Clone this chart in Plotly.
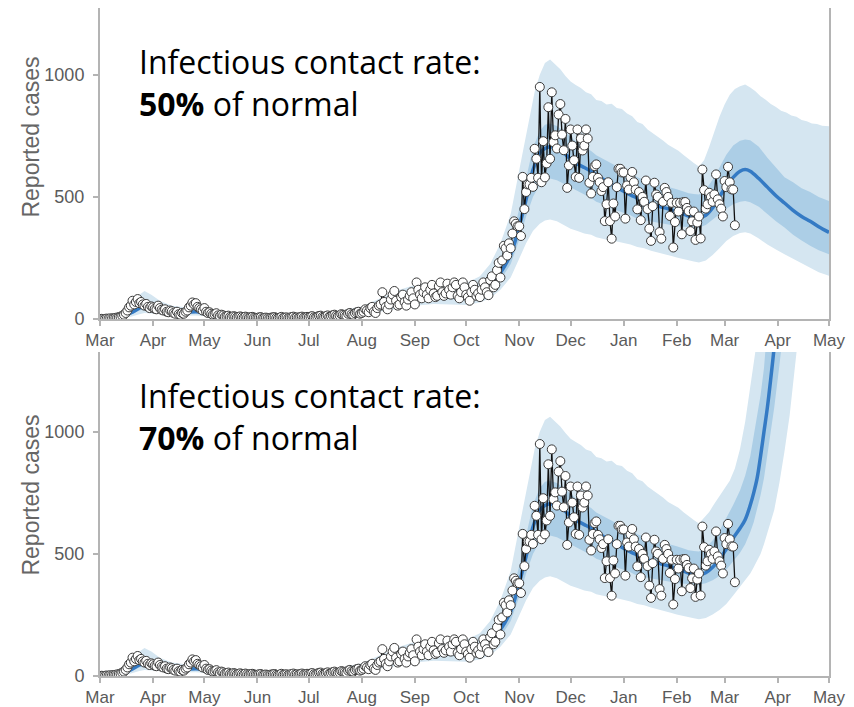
import pandas as pd
import plotly.graph_objects as go

# ---------------- observed daily reported cases (from 2020-03-01) ----------------
cases_2020_03 = [0,1,0,1,2,1,3,2,4,5,6,8,10,14,18,25,35,48,55,75,60,70,82,65,70,60,55,62,50,45,52]
cases_2020_04 = [48,42,40,55,45,38,35,40,30,28,35,32,25,22,30,20,18,25,22,30,35,48,55,68,60,65,50,45,40,35]
cases_2020_05 = [45,30,25,28,22,18,20,24,15,12,18,15,10,12,14,9,8,12,10,7,9,11,8,6,10,7,5,8,9,6,5]
cases_2020_06 = [5,7,8,4,5,6,4,3,6,7,8,5,4,6,9,5,6,7,4,6,8,10,6,7,5,8,10,6,7,9]
cases_2020_07 = [8,10,12,7,6,10,13,14,9,8,12,15,10,12,16,18,14,12,15,20,18,16,14,22,25,20,18,24,28,30,22]
cases_2020_08 = [25,30,40,35,28,45,50,30,25,45,55,60,110,70,50,40,60,80,100,115,75,55,60,90,100,70,55,80,95,110,85]
cases_2020_09 = [60,150,120,100,85,110,130,100,85,120,140,105,90,95,135,150,110,95,105,145,120,100,130,150,140,95,85,110,150,130]
cases_2020_10 = [100,90,75,110,140,120,95,105,90,120,150,130,110,98,160,175,130,140,200,230,170,240,300,290,260,310,290,350,400,390,380]
cases_2020_11 = [380,340,582,450,520,551,551,578,541,697,656,578,950,560,728,580,637,867,656,928,724,752,698,837,880,755,691,819,537,629]
cases_2020_12 = [776,710,650,582,776,578,739,690,710,776,739,558,514,582,626,633,578,560,524,540,401,470,560,401,329,473,420,540,615,615,600]
cases_2021_01 = [600,411,547,530,580,602,560,530,449,520,405,500,480,567,450,370,320,462,558,510,500,356,329,480,537,520,500,422,476,293,397]
cases_2021_02 = [476,440,476,347,479,479,455,442,360,400,440,324,395,420,330,612,528,452,470,517,500,480,510,592,490,470,452,420]
cases_2021_03 = [565,540,623,560,531,530,384]

# ---------------- model fit up to mid-Feb 2021 (days since 2020-03-01), shared by both panels ----------------
fit_day  = [0,10,18,23,26,30,35,42,50,56,63,75,92,110,122,140,153,165,175,184,195,205,214,222,228,234,240,245,249,253,
            257,260,263,267,271,275,279,283,287,290,294,298,302,306,310,314,318,322,326,330,334,337,341,344,347,350]
fit_lo90 = [0,2,10,20,25,25,22,18,14,15,12,6,3,3,4,9,16,32,45,55,62,60,58,68,85,120,170,245,310,360,
            390,403,408,400,385,370,360,350,345,335,330,322,318,313,305,295,290,280,272,265,258,252,246,240,236,232]
fit_lo50 = [1,5,18,35,40,40,35,27,22,24,20,11,6,6,8,14,24,45,62,75,84,82,80,92,118,160,225,325,420,500,
            550,568,575,568,555,540,525,510,495,480,470,455,445,436,425,410,405,400,395,390,385,381,378,376,375,375]
fit_med  = [2,8,25,45,52,50,42,33,28,30,25,15,8,8,10,18,30,55,75,90,100,98,95,110,140,190,265,380,490,610,
            680,698,705,698,680,655,635,620,605,590,572,555,540,523,508,495,482,470,462,455,447,440,430,422,417,415]
fit_hi50 = [3,12,35,65,75,65,52,40,35,38,30,19,11,11,13,23,38,68,90,105,118,115,112,130,168,225,315,450,580,700,
            770,795,800,790,770,745,722,705,688,670,655,640,625,612,598,580,570,560,552,545,538,531,522,515,512,510]
fit_hi90_day = [0,10,18,23,26,30,35,42,50,56,63,75,92,110,122,140,153,165,175,184,195,205,214,222,228,234,240,245,
                248,251,254,257,260,263,266,269,272,275,278,281,284,287,290,293,296,299,302,305,308,311,314,317,320,
                323,326,329,332,335,338,341,344,347,350]
fit_hi90 = [5,20,60,100,115,100,75,55,48,50,42,28,16,16,20,33,52,90,120,140,150,150,148,175,225,310,430,610,
            720,830,930,1000,1048,1062,1040,1022,995,972,958,946,928,920,897,892,878,881,864,860,841,830,806,798,776,
            762,746,731,713,702,689,671,653,639,624]

# ---------------- projection, 50% of normal contact rate ----------------
a_day      = [354,358,362,366,370,374,377,380,385,390,395,400,405,410,415,420,426]
a_lo90     = [240,262,290,320,340,352,355,350,330,305,285,265,245,228,210,192,177]
a_lo50     = [385,405,430,452,470,480,483,478,460,430,400,375,345,322,300,282,265]
a_med      = [425,455,500,545,580,605,612,605,575,540,505,475,445,420,400,378,355]
a_hi50     = [530,570,620,672,710,730,735,732,705,660,620,580,560,535,520,500,483]
a_hi90_day = [353,356,359,362,365,368,371,374,377,380,383,386,389,392,395,398,401,404,407,410,413,416,419,422,426]
a_hi90     = [650,705,768,828,878,918,942,953,960,948,932,912,898,880,868,853,845,833,828,815,810,800,798,791,789]

# ---------------- projection, 70% of normal contact rate ----------------
b_day      = [354,358,362,366,370,374,377,380,382,384,386,388,390,392,394,397,400,403,407,412,420,426]
b_lo90     = [238,252,270,295,330,365,390,420,445,470,500,540,580,630,680,790,920,1067,1325,1700,2400,3000]
b_lo50     = [380,392,410,435,470,505,540,590,630,680,740,810,900,1000,1100,1270,1450,1650,2000,2500,3300,4000]
b_med      = [423,445,478,520,565,605,640,700,750,810,900,1000,1100,1220,1350,1600,1850,2100,2500,3000,4000,5000]
b_hi50     = [525,555,595,645,700,760,820,900,980,1060,1150,1260,1400,1550,1700,2000,2300,2700,3200,4000,5000,6000]
b_hi90_day = [353,356,359,362,365,368,371,374,377,380,383,386,390,395,400,410,426]
b_hi90     = [648,672,705,735,765,800,850,930,1040,1180,1330,1520,1800,2200,2700,4000,8000]

panel_labels = ["50%", "70%"]

# ---------------- build ----------------
START = pd.Timestamp("2020-03-01")
cases = (cases_2020_03 + cases_2020_04 + cases_2020_05 + cases_2020_06 + cases_2020_07 +
         cases_2020_08 + cases_2020_09 + cases_2020_10 + cases_2020_11 + cases_2020_12 +
         cases_2021_01 + cases_2021_02 + cases_2021_03)
case_dates = pd.date_range(START, periods=len(cases), freq="D")

LIGHT = "rgb(213,230,241)"
DARK = "rgb(172,206,230)"
MED = "rgb(52,122,196)"
AXC = "#b4b4b4"
TICKC = "#5a5a5a"

def to_dates(days):
    return [START + pd.Timedelta(days=int(v)) for v in days]

fig = go.Figure()

def add_panel(day, lo90, lo50, med, hi50, hi90_day, hi90, xa, ya):
    d_all = to_dates(fit_day + day)
    d_hi90 = to_dates(fit_hi90_day + hi90_day)
    lo90_all = fit_lo90 + lo90
    fig.add_trace(go.Scatter(x=d_hi90 + d_all[::-1], y=fit_hi90 + hi90 + lo90_all[::-1],
                             fill="toself", fillcolor=LIGHT, line=dict(width=0), mode="lines",
                             hoverinfo="skip", showlegend=False, xaxis=xa, yaxis=ya))
    hi50_all = fit_hi50 + hi50
    lo50_all = fit_lo50 + lo50
    fig.add_trace(go.Scatter(x=d_all + d_all[::-1], y=hi50_all + lo50_all[::-1],
                             fill="toself", fillcolor=DARK, line=dict(width=0), mode="lines",
                             hoverinfo="skip", showlegend=False, xaxis=xa, yaxis=ya))
    fig.add_trace(go.Scatter(x=d_all, y=fit_med + med, mode="lines",
                             line=dict(color=MED, width=3.5, shape="spline"),
                             showlegend=False, xaxis=xa, yaxis=ya))
    fig.add_trace(go.Scatter(x=case_dates, y=cases, mode="lines+markers",
                             line=dict(color="#111111", width=1.3),
                             marker=dict(size=9, color="white", line=dict(color="#3a3a3a", width=1)),
                             showlegend=False, xaxis=xa, yaxis=ya))

add_panel(a_day, a_lo90, a_lo50, a_med, a_hi50, a_hi90_day, a_hi90, "x", "y")
add_panel(b_day, b_lo90, b_lo50, b_med, b_hi50, b_hi90_day, b_hi90, "x2", "y2")

xcommon = dict(type="date", range=["2020-03-01", "2021-05-01"], dtick="M1", tick0="2020-03-01",
               tickformat="%b", ticks="outside", ticklen=5, tickwidth=1.5, tickcolor=AXC,
               showline=True, linecolor=AXC, linewidth=2, showgrid=False, zeroline=False,
               tickfont=dict(family="Liberation Sans, Arial", size=17, color=TICKC))
ycommon = dict(tickvals=[0, 500, 1000], ticks="outside", ticklen=5, tickwidth=1.5, tickcolor=AXC,
               ticklabelstandoff=5,
               showline=True, mirror=True, linecolor=AXC, linewidth=2, showgrid=False, zeroline=False,
               tickfont=dict(family="Liberation Sans, Arial", size=18, color=TICKC))

# the page body adds an 8px offset, so the figure is 8px smaller on each axis
fig.update_layout(
    width=846, height=699,
    margin=dict(l=92, r=25, t=0, b=29),
    paper_bgcolor="white", plot_bgcolor="white",
    xaxis=dict(**xcommon, anchor="y"),
    xaxis2=dict(**xcommon, anchor="y2"),
    yaxis=dict(**ycommon, domain=[0.5343, 1.0], range=[0, 1273]),
    yaxis2=dict(**ycommon, domain=[0.0, 0.4851], range=[0, 1327]),
)

for yy in (0.8075, 0.2716):
    fig.add_annotation(text="Reported cases", xref="paper", yref="paper", x=-0.0947, y=yy,
                       textangle=-90, showarrow=False, xanchor="center", yanchor="middle",
                       font=dict(family="Liberation Sans, Arial", size=23, color="#666666"))

for yy, lab in zip((0.888, 0.3888), panel_labels):
    fig.add_annotation(text="Infectious contact rate:<br><b>" + lab + "</b> of normal",
                       xref="paper", yref="paper", x=0.051, y=yy,
                       xanchor="left", yanchor="middle", align="left", showarrow=False,
                       font=dict(family="Open Sans", size=32, color="black"))

fig.write_html("out.html")
